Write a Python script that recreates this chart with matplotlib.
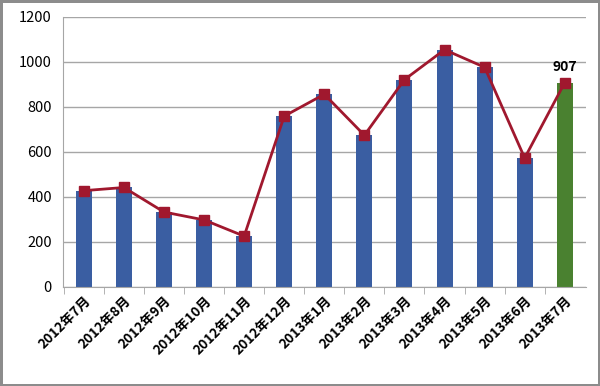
import numpy as np
import matplotlib.pyplot as plt

plt.rcParams['font.family'] = ['Noto Sans CJK SC', 'DejaVu Sans']

# du lieu doc tu hinh
thang = ['2012年7月', '2012年8月', '2012年9月', '2012年10月', '2012年11月', '2012年12月',
         '2013年1月', '2013年2月', '2013年3月', '2013年4月', '2013年5月', '2013年6月', '2013年7月']
gia_tri = [427, 441, 332, 297, 225, 758, 855, 673, 920, 1053, 975, 572, 907]
mau_cot = ['#3A5EA2'] * 12 + ['#4A8130']

fig = plt.figure(figsize=(6, 3.86), dpi=100)
fig.patch.set_edgecolor('#8C8C8C')
fig.patch.set_linewidth(2.5)
ax = fig.add_axes([0.105, 0.257, 0.871, 0.70])

x = np.arange(len(thang))
ax.bar(x, gia_tri, width=0.4, color=mau_cot, zorder=2)
ax.plot(x, gia_tri, color='#A0182E', lw=2, marker='s', ms=7, zorder=3)
ax.text(x[-1], gia_tri[-1] + 40, str(gia_tri[-1]), ha='center', va='bottom',
        fontsize=10, fontweight='bold')

ax.set_xlim(-0.52, len(thang) - 0.48)
ax.set_ylim(0, 1200)
ax.set_yticks(np.arange(0, 1201, 200))
ax.yaxis.grid(True, color='#A6A6A6', lw=1, zorder=0)
ax.tick_params(axis='y', length=0, labelsize=10.5, pad=8)

# vach chia truc x nam giua cac cot
ax.set_xticks(x - 0.5, minor=True)
ax.set_xticks(x)
ax.set_xticklabels(thang, rotation=45, ha='right', rotation_mode='anchor',
                   fontsize=9.8, fontweight='bold')
ax.tick_params(axis='x', which='major', length=0, pad=5)
ax.tick_params(axis='x', which='minor', length=5, color='#A6A6A6')

for s in ['top', 'right']:
    ax.spines[s].set_visible(False)
ax.spines['left'].set_color('#A6A6A6')
ax.spines['bottom'].set_color('#A6A6A6')

fig.savefig('out.png', dpi=100, edgecolor=fig.get_edgecolor())
